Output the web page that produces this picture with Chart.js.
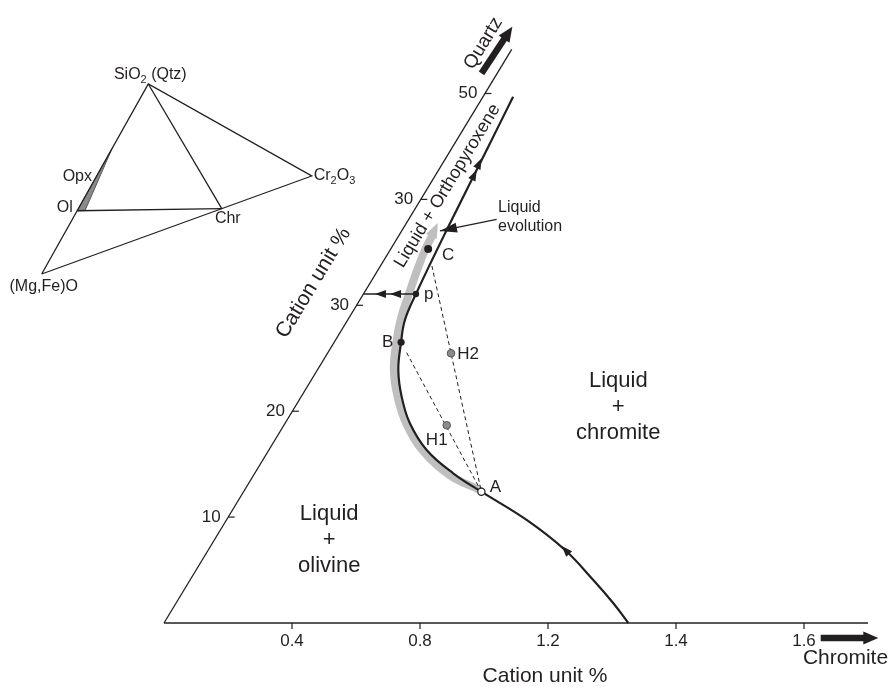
<!DOCTYPE html>
<html>
<head>
<meta charset="utf-8">
<title>Liquid evolution – chromite / quartz section</title>
<style>
  html, body { margin: 0; padding: 0; background: #fff; }
  #wrap { width: 894px; height: 687px; }
</style>
<script src="https://cdn.jsdelivr.net/npm/chart.js@4.4.1/dist/chart.umd.min.js"></script>
</head>
<body>
<div id="wrap"><canvas id="phaseChart"></canvas></div>
<script>
// axis ticks: chromite along the base, quartz (cation %) along the leaning side
const chromiteTicks = [0.4, 0.8, 1.2, 1.6, 2.0];
const chromiteTickLabels = ['0.4', '0.8', '1.2', '1.4', '1.6'];
const quartzTicks = [10, 20, 30, 40, 50];
const quartzTickLabels = ['10', '20', '30', '30', '50'];

// cotectic path, from the base up through A, B and p to the orthopyroxene field
const pathChromite = [1.451, 1.367, 1.260, 1.115, 0.938, 0.743, 0.620, 0.493, 0.390, 0.314, 0.253, 0.209, 0.179, 0.164, 0.139, 0.1125, 0.094];
const pathQuartz = [0, 1.86, 4.06, 6.89, 9.73, 12.40, 14.14, 16.34, 18.86, 21.37, 23.89, 26.51, 28.61, 31.07, 37.11, 44.66, 49.70];

// observed liquid trend (grey band), A to just past C
const trendChromite = [0.7275, 0.618, 0.488, 0.381, 0.302, 0.239, 0.194, 0.163, 0.142, 0.121, 0.108, 0.105];
const trendQuartz = [12.65, 13.88, 16.15, 18.79, 21.34, 23.89, 26.53, 28.80, 31.07, 33.52, 35.41, 36.36];
const trendTip = [0.098, 37.77];

// labelled compositions
const pointNames = ['A', 'B', 'C', 'p', 'H1', 'H2'];
const pointChromite = [0.743, 0.209, 0.117, 0.164, 0.509, 0.386];
const pointQuartz = [12.40, 26.51, 35.32, 31.07, 18.67, 25.47];

// inset ternary SiO2 – Cr2O3 – (Mg,Fe)O, fractions on a cation basis
const phaseNames = ['Ol', 'Opx', 'Chr'];
const phaseSiO2 = [0.333, 0.5, 0];
const phaseCr2O3 = [0, 0, 0.667];
const opxFieldSiO2 = [0.333, 0.315, 0.66];
const opxFieldCr2O3 = [0, 0.036, 0];

const INK = '#231f20';
const FONT = '"Liberation Sans", Arial, Helvetica, sans-serif';
const LEAN = 0.02006;   // x shift of the quartz axis per cation %

// inset frame: corner positions of the small triangle on the xi/yi scales
const INSET_MG = [0, 0], INSET_SI = [39.48, 100], INSET_CR = [100, 51.58];

const xy = (c, q) => ({ x: c + q * LEAN, y: q });
const series = (cs, qs) => cs.map((c, i) => xy(c, qs[i]));
const ptAt = name => xy(pointChromite[pointNames.indexOf(name)], pointQuartz[pointNames.indexOf(name)]);
const along = (a, b, t) => ({ x: a.x + (b.x - a.x) * t, y: a.y + (b.y - a.y) * t });

function ternary(si, cr) {
  return {
    x: INSET_MG[0] + si * (INSET_SI[0] - INSET_MG[0]) + cr * (INSET_CR[0] - INSET_MG[0]),
    y: INSET_MG[1] + si * (INSET_SI[1] - INSET_MG[1]) + cr * (INSET_CR[1] - INSET_MG[1])
  };
}
const phase = name => ternary(phaseSiO2[phaseNames.indexOf(name)], phaseCr2O3[phaseNames.indexOf(name)]);

function lineSet(data, extra) {
  return Object.assign({
    data, showLine: true, borderColor: INK, borderWidth: 1.3, pointRadius: 0,
    fill: false, clip: false, tension: 0
  }, extra || {});
}

const A = ptAt('A'), B = ptAt('B'), C = ptAt('C');

const datasets = [
  lineSet(series(trendChromite, trendQuartz), { borderColor: '#bfbfbf', borderWidth: 8, tension: 0.4, borderCapStyle: 'round', order: 10 }),
  lineSet([xy(0, 0), xy(0, 54.17)], { order: 9 }),
  lineSet([xy(0, 0), xy(2.2, 0)], { order: 9 }),
  lineSet([along(B, A, 0.07), A], { borderWidth: 1, borderDash: [4, 3], order: 8 }),
  lineSet([along(C, A, 0.07), A], { borderWidth: 1, borderDash: [4, 3], order: 8 }),
  lineSet([ptAt('p'), xy(0, pointQuartz[3])], { borderWidth: 1.5, order: 7 }),
  lineSet(series(pathChromite, pathQuartz), { borderWidth: 2.2, tension: 0.4, order: 5 }),
  {
    data: ['B', 'C', 'p'].map(ptAt), pointRadius: [3.6, 4, 3.2], pointBackgroundColor: INK,
    pointBorderWidth: 0, clip: false, order: 1
  },
  {
    data: ['H1', 'H2'].map(ptAt), pointRadius: 3.8, pointBackgroundColor: '#8c8c8c',
    pointBorderColor: '#555', pointBorderWidth: 1, clip: false, order: 1
  },
  {
    data: [A], pointRadius: 3.6, pointBackgroundColor: '#fff',
    pointBorderColor: INK, pointBorderWidth: 1.2, clip: false, order: 1
  },
  // inset triangle
  lineSet([ternary(0, 0), ternary(1, 0), ternary(0, 1), ternary(0, 0)], { xAxisID: 'xi', yAxisID: 'yi', order: 6 }),
  lineSet([ternary(1, 0), phase('Chr')], { xAxisID: 'xi', yAxisID: 'yi', order: 6 }),
  lineSet([phase('Ol'), phase('Chr')], { xAxisID: 'xi', yAxisID: 'yi', order: 6 })
];

function arrowHead(ctx, tip, from, len, half) {
  const a = Math.atan2(tip.y - from.y, tip.x - from.x);
  const bx = tip.x - len * Math.cos(a), by = tip.y - len * Math.sin(a);
  ctx.beginPath();
  ctx.moveTo(tip.x, tip.y);
  ctx.lineTo(bx + half * Math.sin(a), by - half * Math.cos(a));
  ctx.lineTo(bx - half * Math.sin(a), by + half * Math.cos(a));
  ctx.closePath();
  ctx.fill();
}

function boldArrow(ctx, from, tip) {
  const a = Math.atan2(tip.y - from.y, tip.x - from.x);
  ctx.lineWidth = 6.5;
  ctx.lineCap = 'butt';
  ctx.beginPath();
  ctx.moveTo(from.x, from.y);
  ctx.lineTo(tip.x - 13 * Math.cos(a), tip.y - 13 * Math.sin(a));
  ctx.stroke();
  arrowHead(ctx, tip, from, 15, 6.5);
}

// text with subscript runs: parts = [[text, isSub], ...]
function subText(ctx, parts, x, y, size, align) {
  const sub = Math.round(size * 0.7);
  const widths = parts.map(([t, s]) => { ctx.font = (s ? sub : size) + 'px ' + FONT; return ctx.measureText(t).width; });
  const total = widths.reduce((a, b) => a + b, 0);
  let cx = align === 'center' ? x - total / 2 : align === 'right' ? x - total : x;
  ctx.textAlign = 'left';
  ctx.textBaseline = 'middle';
  parts.forEach(([t, s], i) => {
    ctx.font = (s ? sub : size) + 'px ' + FONT;
    ctx.fillText(t, cx, s ? y + size * 0.3 : y);
    cx += widths[i];
  });
}

const decor = {
  id: 'decor',
  beforeDatasetsDraw(chart) {
    const { ctx, scales } = chart;
    const P = (c, q) => ({ x: scales.x.getPixelForValue(c + q * LEAN), y: scales.y.getPixelForValue(q) });
    const T = f => ({ x: scales.xi.getPixelForValue(f.x), y: scales.yi.getPixelForValue(f.y) });
    ctx.save();
    // orthopyroxene sliver in the inset
    ctx.fillStyle = '#8a8a8a';
    ctx.strokeStyle = '#555';
    ctx.lineWidth = 1;
    ctx.beginPath();
    opxFieldSiO2.forEach((si, i) => {
      const p = T(ternary(si, opxFieldCr2O3[i]));
      i ? ctx.lineTo(p.x, p.y) : ctx.moveTo(p.x, p.y);
    });
    ctx.closePath();
    ctx.fill();
    ctx.stroke();
    // head of the grey liquid trend
    ctx.fillStyle = '#bfbfbf';
    const last = trendChromite.length - 1;
    arrowHead(ctx, P(trendTip[0], trendTip[1]), P(trendChromite[last - 1], trendQuartz[last - 1]), 15, 6);
    ctx.restore();
  },
  afterDatasetsDraw(chart) {
    const { ctx, scales } = chart;
    const P = (c, q) => ({ x: scales.x.getPixelForValue(c + q * LEAN), y: scales.y.getPixelForValue(q) });
    const T = f => ({ x: scales.xi.getPixelForValue(f.x), y: scales.yi.getPixelForValue(f.y) });
    const o = P(0, 0), top = P(0, 50);
    const lean = Math.atan2(top.y - o.y, top.x - o.x);

    ctx.save();
    ctx.fillStyle = INK;
    ctx.strokeStyle = INK;
    ctx.lineWidth = 1.2;

    // chromite ticks
    ctx.font = '17px ' + FONT;
    ctx.textAlign = 'center';
    ctx.textBaseline = 'middle';
    chromiteTicks.forEach((c, i) => {
      const p = P(c, 0);
      ctx.beginPath(); ctx.moveTo(p.x, p.y); ctx.lineTo(p.x, p.y + 6); ctx.stroke();
      ctx.fillText(chromiteTickLabels[i], p.x, p.y + 18.5);
    });
    // quartz ticks
    ctx.textAlign = 'right';
    quartzTicks.forEach((q, i) => {
      const p = P(0, q);
      ctx.beginPath(); ctx.moveTo(p.x, p.y); ctx.lineTo(p.x + 6.5, p.y); ctx.stroke();
      ctx.fillText(quartzTickLabels[i], p.x - 7.5, p.y);
    });

    // small arrowheads on the path and the p projection
    [[[1.097, 7.27], [1.260, 4.06]],
     [[0.1125, 43.88], [0.164, 31.07]],
     [[0.119, 42.78], [0.164, 31.07]],
     [[0.036, 31.07], [0.164, 31.07]],
     [[0.083, 31.07], [0.164, 31.07]]].forEach(([t, f]) => arrowHead(ctx, P(t[0], t[1]), P(f[0], f[1]), 11, 4));

    // bold axis arrows
    boldArrow(ctx, P(-0.049, 51.9), P(-0.041, 56.31));
    boldArrow(ctx, P(2.0806, -1.416), P(2.2606, -1.416));

    // liquid evolution pointer
    const es = P(0.275, 38.12), et = P(0.1199, 37.02);
    ctx.lineWidth = 1.3;
    ctx.beginPath(); ctx.moveTo(es.x, es.y); ctx.lineTo(et.x, et.y); ctx.stroke();
    arrowHead(ctx, et, es, 17, 5);

    // point labels
    ctx.font = '17px ' + FONT;
    ctx.textBaseline = 'middle';
    const labelOffsets = { A: [14, -4, 'center'], B: [-13.5, 0.5, 'center'], C: [20, 6, 'center'], p: [8, 0, 'left'], H1: [-10, 15, 'center'], H2: [6.3, 0.7, 'left'] };
    pointNames.forEach((n, i) => {
      const p = P(pointChromite[i], pointQuartz[i]);
      const [dx, dy, al] = labelOffsets[n];
      ctx.textAlign = al;
      ctx.fillText(n, p.x + dx, p.y + dy);
    });

    // field labels
    ctx.font = '22px ' + FONT;
    ctx.textAlign = 'center';
    [[[1.010, 20.42], ['Liquid', '+', 'chromite']], [[0.359, 7.84], ['Liquid', '+', 'olivine']]].forEach(([at, lines]) => {
      const p = P(at[0], at[1]);
      lines.forEach((t, k) => ctx.fillText(t, p.x, p.y + (k - 1) * 26));
    });

    // axis titles
    ctx.font = '21px ' + FONT;
    let p = P(1.291, -5.005);
    ctx.fillText('Cation unit %', p.x, p.y);
    p = P(2.063, -3.305);
    ctx.textAlign = 'left';
    ctx.fillText('Chromite', p.x, p.y);

    const rotated = (text, at, size) => {
      const q = P(at[0], at[1]);
      ctx.save();
      ctx.translate(q.x, q.y);
      ctx.rotate(lean);
      ctx.font = size + 'px ' + FONT;
      ctx.textAlign = 'center';
      ctx.textBaseline = 'middle';
      ctx.fillText(text, 0, 0);
      ctx.restore();
    };
    rotated('Cation unit %', [-0.177, 32.11], 21);
    rotated('Liquid + Orthopyroxene', [0.058, 41.27], 18);
    rotated('Quartz', [-0.100, 54.74], 19);

    ctx.font = '16px ' + FONT;
    ctx.textAlign = 'left';
    p = P(0.2577, 39.19);
    ctx.fillText('Liquid', p.x, p.y);
    ctx.fillText('evolution', p.x, p.y + 19);

    // inset labels
    const si = T(ternary(1, 0)), cr = T(ternary(0, 1)), mg = T(ternary(0, 0));
    subText(ctx, [['SiO', 0], ['2', 1], [' (Qtz)', 0]], si.x + 2, si.y - 9, 16, 'center');
    subText(ctx, [['Cr', 0], ['2', 1], ['O', 0], ['3', 1]], cr.x + 2, cr.y, 16, 'left');
    subText(ctx, [['(Mg,Fe)O', 0]], mg.x + 2, mg.y + 13, 16, 'center');
    const ol = T(phase('Ol')), opx = T(phase('Opx')), chr = T(phase('Chr'));
    subText(ctx, [['Ol', 0]], ol.x - 4.5, ol.y - 3, 16, 'right');
    subText(ctx, [['Opx', 0]], opx.x - 3, opx.y - 2, 16, 'right');
    subText(ctx, [['Chr', 0]], chr.x + 6, chr.y + 10, 16, 'center');

    ctx.restore();
  }
};

new Chart(document.getElementById('phaseChart'), {
  type: 'scatter',
  data: { datasets },
  options: {
    responsive: true,
    maintainAspectRatio: false,
    animation: false,
    events: [],
    layout: { autoPadding: false, padding: 0 },
    plugins: { legend: { display: false }, tooltip: { enabled: false } },
    scales: {
      x: { type: 'linear', display: false, min: -0.5125, max: 2.28125, bounds: 'data' },
      y: { type: 'linear', display: false, min: -6.0435, max: 58.829, bounds: 'data' },
      xi: { type: 'linear', axis: 'x', display: false, min: -15.444, max: 315.67, bounds: 'data' },
      yi: { type: 'linear', axis: 'y', display: false, min: -217.37, max: 144.21, bounds: 'data' }
    }
  },
  plugins: [decor]
});
</script>
</body>
</html>
